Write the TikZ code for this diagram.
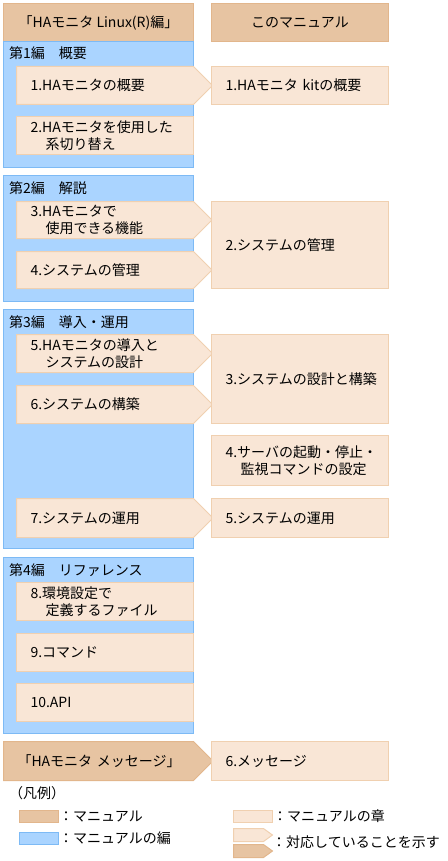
\documentclass[tikz,border=0pt]{standalone}
\usepackage{fontspec}
\setmainfont{Noto Sans CJK JP}
\usetikzlibrary{shapes.symbols,positioning}
\definecolor{manualfill}{RGB}{231,196,162}
\definecolor{manualline}{RGB}{226,182,140}
\definecolor{partfill}{RGB}{170,212,255}
\definecolor{partline}{RGB}{125,186,245}
\definecolor{chapfill}{RGB}{249,230,214}
\definecolor{chapline}{RGB}{240,208,176}
\newcommand{\ind}{\hspace*{15pt}}

\begin{document}
\begin{tikzpicture}[x=1pt, y=-1pt,
    every node/.style={font=\fontsize{14}{17}\selectfont, inner sep=0pt},
    manual/.style={draw=manualline, fill=manualfill, line width=1pt, minimum height=38pt, anchor=north west},
    part/.style={draw=partline, fill=partfill, line width=1pt, minimum width=190pt, anchor=north west},
    chap/.style={draw=chapline, fill=chapfill, line width=1pt, text width=149pt, align=left,
        inner xsep=14pt, minimum height=38pt, anchor=north west},
    chaparrow/.style={chap, signal, signal to=east, signal pointer angle=90},
    parttitle/.style={anchor=west}]
    \useasboundingbox (0,0) rectangle (447,861);

    % Manuals
    \node[manual, minimum width=190pt] (linux) at (3,3) {「HAモニタ Linux(R)編」};
    \node[manual, minimum width=177pt] (this) at (211,3) {このマニュアル};

    % Parts of the Linux manual
    \node[part, minimum height=126pt] (p1) at (3,41) {};
    \node[part, minimum height=126pt] (p2) at (3,175) {};
    \node[part, minimum height=239pt] (p3) at (3,309) {};
    \node[part, minimum height=176pt] (p4) at (3,557) {};
    \node[parttitle] (p1t) at (9,53) {第1編　概要};
    \node[parttitle] (p2t) at (9,188) {第2編　解説};
    \node[parttitle] (p3t) at (9,322) {第3編　導入・運用};
    \node[parttitle] (p4t) at (9,570) {第4編　リファレンス};

    % Chapters of the Linux manual
    \node[chaparrow] (c1) at (16,66) {1.HAモニタの概要};
    \node[chap] (c2) at (16,116) {2.HAモニタを使用した\\\ind 系切り替え};
    \node[chaparrow, minimum height=37pt] (c3) at (16,201) {3.HAモニタで\\\ind 使用できる機能};
    \node[chaparrow, minimum height=37pt] (c4) at (16,251) {4.システムの管理};
    \node[chaparrow] (c5) at (16,334) {5.HAモニタの導入と\\\ind システムの設計};
    \node[chaparrow] (c6) at (16,385) {6.システムの構築};
    \node[chaparrow, minimum height=39pt] (c7) at (16,498) {7.システムの運用};
    \node[chap] (c8) at (16,582) {8.環境設定で\\\ind 定義するファイル};
    \node[chap] (c9) at (16,633) {9.コマンド};
    \node[chap] (c10) at (16,683) {10.API};

    % Messages manual
    \node[manual, signal, signal to=east, signal pointer angle=90, text width=162pt, align=left,
        inner xsep=14pt, minimum height=39pt] (msg) at (3,741) {「HAモニタ~メッセージ」};

    % Chapters of this manual
    \node[chap] (r1) at (211,66) {1.HAモニタ~kitの概要};
    \node[chap, minimum height=87pt] (r2) at (211,201) {2.システムの管理};
    \node[chap, minimum height=89pt] (r3) at (211,334) {3.システムの設計と構築};
    \node[chap, minimum height=50pt] (r4) at (211,435) {4.サーバの起動・停止・\\\ind 監視コマンドの設定};
    \node[chap, minimum height=39pt] (r5) at (211,498) {5.システムの運用};
    \node[chap, minimum height=39pt] (r6) at (211,741) {6.メッセージ};

    % Legend
    \node[anchor=west] (legend) at (9,793) {（凡例）};
    \node[manual, minimum width=39pt, minimum height=12pt] (keyman) at (19,810) {};
    \node[right=0pt of keyman] (keymant) {：マニュアル};
    \node[part, minimum width=39pt, minimum height=12pt] (keypart) at (19,832) {};
    \node[right=0pt of keypart] (keypartt) {：マニュアルの編};
    \node[chap, text width=39pt, inner xsep=0pt, minimum height=12pt] (keychap) at (233,810) {};
    \node[right=0pt of keychap] (keychapt) {：マニュアルの章};
    \node[chaparrow, text width=30pt, inner xsep=0pt, minimum height=13pt, signal pointer angle=72] (keyarr) at (233,828) {};
    \node[manual, signal, signal to=east, signal pointer angle=72, text width=30pt, inner xsep=0pt,
        minimum height=13pt] (keyarr2) at (233,844) {};
    \node[anchor=west] (keyarrt) at (272,842) {：対応していることを示す};
\end{tikzpicture}
\end{document}
